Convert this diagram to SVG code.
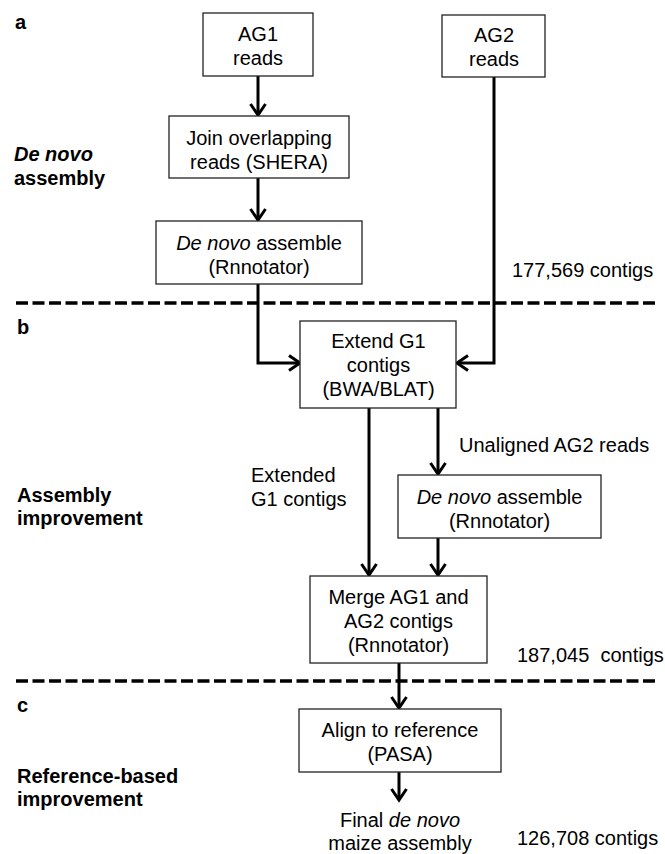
<svg xmlns="http://www.w3.org/2000/svg" width="665" height="854" viewBox="0 0 665 854">
<style>
text{font-family:"Liberation Sans",Arial,sans-serif;font-size:20px;fill:#000}
.c{text-anchor:middle}
.b{font-weight:bold}
.i{font-style:italic}
.box{fill:#fff;stroke:#222;stroke-width:1.3}
.ln{fill:none;stroke:#000;stroke-width:3}
.dash{fill:none;stroke:#000;stroke-width:3.5;stroke-dasharray:12 4.5}
</style>
<defs>
<marker id="ah" markerUnits="userSpaceOnUse" markerWidth="24" markerHeight="24" viewBox="-16 -12 20 24" refX="0" refY="0" orient="auto">
<path d="M-11,-7.5 L0,0 L-11,7.5" fill="none" stroke="#000" stroke-width="3" stroke-linejoin="miter"/>
</marker>
</defs>

<g id="section-labels">
<text class="b" x="15" y="29">a</text>
<text class="b" x="14" y="161"><tspan class="i">De novo</tspan></text>
<text class="b" x="14" y="185">assembly</text>
<text x="512" y="277">177,569 contigs</text>
<text class="b" x="17" y="334">b</text>
<text class="b" x="17" y="502">Assembly</text>
<text class="b" x="17" y="525">improvement</text>
<text x="517" y="662" xml:space="preserve">187,045  contigs</text>
<text class="b" x="17" y="712">c</text>
<text class="b" x="17" y="783">Reference-based</text>
<text class="b" x="17" y="806">improvement</text>
<text x="517" y="845">126,708 contigs</text>
</g>

<g id="dividers">
<line class="dash" x1="16" y1="303" x2="656" y2="303"/>
<line class="dash" x1="16" y1="681" x2="656" y2="681"/>
</g>

<g id="connectors">
<line class="ln" x1="258" y1="76" x2="258" y2="115" marker-end="url(#ah)"/>
<line class="ln" x1="258" y1="178" x2="258" y2="220" marker-end="url(#ah)"/>
<polyline class="ln" points="258,284 258,363 300,363" marker-end="url(#ah)"/>
<polyline class="ln" points="494,77 494,363 457,363" marker-end="url(#ah)"/>
<line class="ln" x1="369" y1="408" x2="369" y2="575" marker-end="url(#ah)"/>
<line class="ln" x1="438" y1="408" x2="438" y2="474" marker-end="url(#ah)"/>
<line class="ln" x1="438" y1="538" x2="438" y2="575" marker-end="url(#ah)"/>
<line class="ln" x1="399" y1="663" x2="399" y2="708" marker-end="url(#ah)"/>
<line class="ln" x1="399" y1="772" x2="399" y2="800" marker-end="url(#ah)"/>
<text x="459" y="452">Unaligned AG2 reads</text>
<text x="251" y="482">Extended</text>
<text x="251" y="506">G1 contigs</text>
</g>

<g id="ag1-reads">
<rect class="box" x="203" y="13" width="110" height="63"/>
<text class="c" x="258" y="41">AG1</text>
<text class="c" x="258" y="65">reads</text>
</g>

<g id="ag2-reads">
<rect class="box" x="442" y="15" width="103" height="62"/>
<text class="c" x="494" y="42">AG2</text>
<text class="c" x="494" y="66">reads</text>
</g>

<g id="join">
<rect class="box" x="169" y="116" width="180" height="62"/>
<text class="c" x="259" y="145">Join overlapping</text>
<text class="c" x="259" y="169">reads (SHERA)</text>
</g>

<g id="denovo1">
<rect class="box" x="156" y="221" width="206" height="63"/>
<text class="c" x="259" y="250"><tspan class="i">De novo</tspan> assemble</text>
<text class="c" x="259" y="274">(Rnnotator)</text>
</g>

<g id="extend">
<rect class="box" x="300" y="321" width="156" height="87"/>
<text class="c" x="378.5" y="348">Extend G1</text>
<text class="c" x="378.5" y="372">contigs</text>
<text class="c" x="378.5" y="396">(BWA/BLAT)</text>
</g>

<g id="denovo2">
<rect class="box" x="398" y="475" width="203" height="63"/>
<text class="c" x="499.5" y="504"><tspan class="i">De novo</tspan> assemble</text>
<text class="c" x="499.5" y="528">(Rnnotator)</text>
</g>

<g id="merge">
<rect class="box" x="310" y="576" width="177" height="87"/>
<text class="c" x="398.5" y="604">Merge AG1 and</text>
<text class="c" x="398.5" y="628">AG2 contigs</text>
<text class="c" x="398.5" y="652">(Rnnotator)</text>
</g>

<g id="align">
<rect class="box" x="299" y="709" width="202" height="63"/>
<text class="c" x="400" y="737">Align to reference</text>
<text class="c" x="400" y="761">(PASA)</text>
</g>

<g id="final">
<text class="c" x="400" y="827">Final <tspan class="i">de novo</tspan></text>
<text class="c" x="400" y="850">maize assembly</text>
</g>
</svg>
